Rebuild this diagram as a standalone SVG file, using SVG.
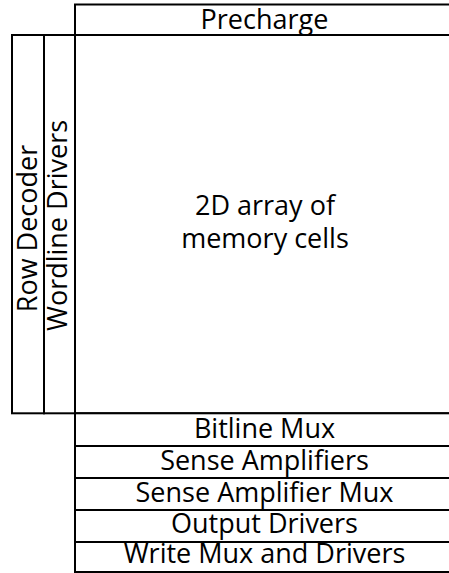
<svg xmlns="http://www.w3.org/2000/svg" width="449" height="573" viewBox="0 0 449 573">
  <style>
    .box { fill: #ffffff; stroke: #000000; stroke-width: 2; }
    .lbl { font-family: "Open Sans", "Liberation Sans", sans-serif; font-size: 27px; fill: #000000; text-anchor: middle; }
  </style>
  <rect x="0" y="0" width="449" height="573" fill="#ffffff"/>
  <g id="precharge">
    <rect class="box" x="75" y="4.5" width="380" height="30.5"/>
    <text class="lbl" x="264.5" y="29">Precharge</text>
  </g>
  <g id="row-decoder">
    <rect class="box" x="12" y="35" width="32" height="378.3"/>
    <text class="lbl" transform="translate(37,228.5) rotate(-90)">Row Decoder</text>
  </g>
  <g id="wordline-drivers">
    <rect class="box" x="44" y="35" width="31" height="378.3"/>
    <text class="lbl" transform="translate(67,225.5) rotate(-90)">Wordline Drivers</text>
  </g>
  <g id="memory-array">
    <rect class="box" x="75" y="35" width="380" height="378.3"/>
    <text class="lbl" x="265" y="215">2D array of</text>
    <text class="lbl" x="265" y="248">memory cells</text>
  </g>
  <g id="bitline-mux">
    <rect class="box" x="75" y="413.3" width="380" height="32.7"/>
    <text class="lbl" x="264.5" y="438">Bitline Mux</text>
  </g>
  <g id="sense-amplifiers">
    <rect class="box" x="75" y="446" width="380" height="32"/>
    <text class="lbl" x="264.5" y="470">Sense Amplifiers</text>
  </g>
  <g id="sense-amplifier-mux">
    <rect class="box" x="75" y="478" width="380" height="32"/>
    <text class="lbl" x="264.5" y="502">Sense Amplifier Mux</text>
  </g>
  <g id="output-drivers">
    <rect class="box" x="75" y="510" width="380" height="32"/>
    <text class="lbl" x="264.5" y="533">Output Drivers</text>
  </g>
  <g id="write-mux-drivers">
    <rect class="box" x="75" y="542" width="380" height="30"/>
    <text class="lbl" x="264.5" y="563">Write Mux and Drivers</text>
  </g>
</svg>
